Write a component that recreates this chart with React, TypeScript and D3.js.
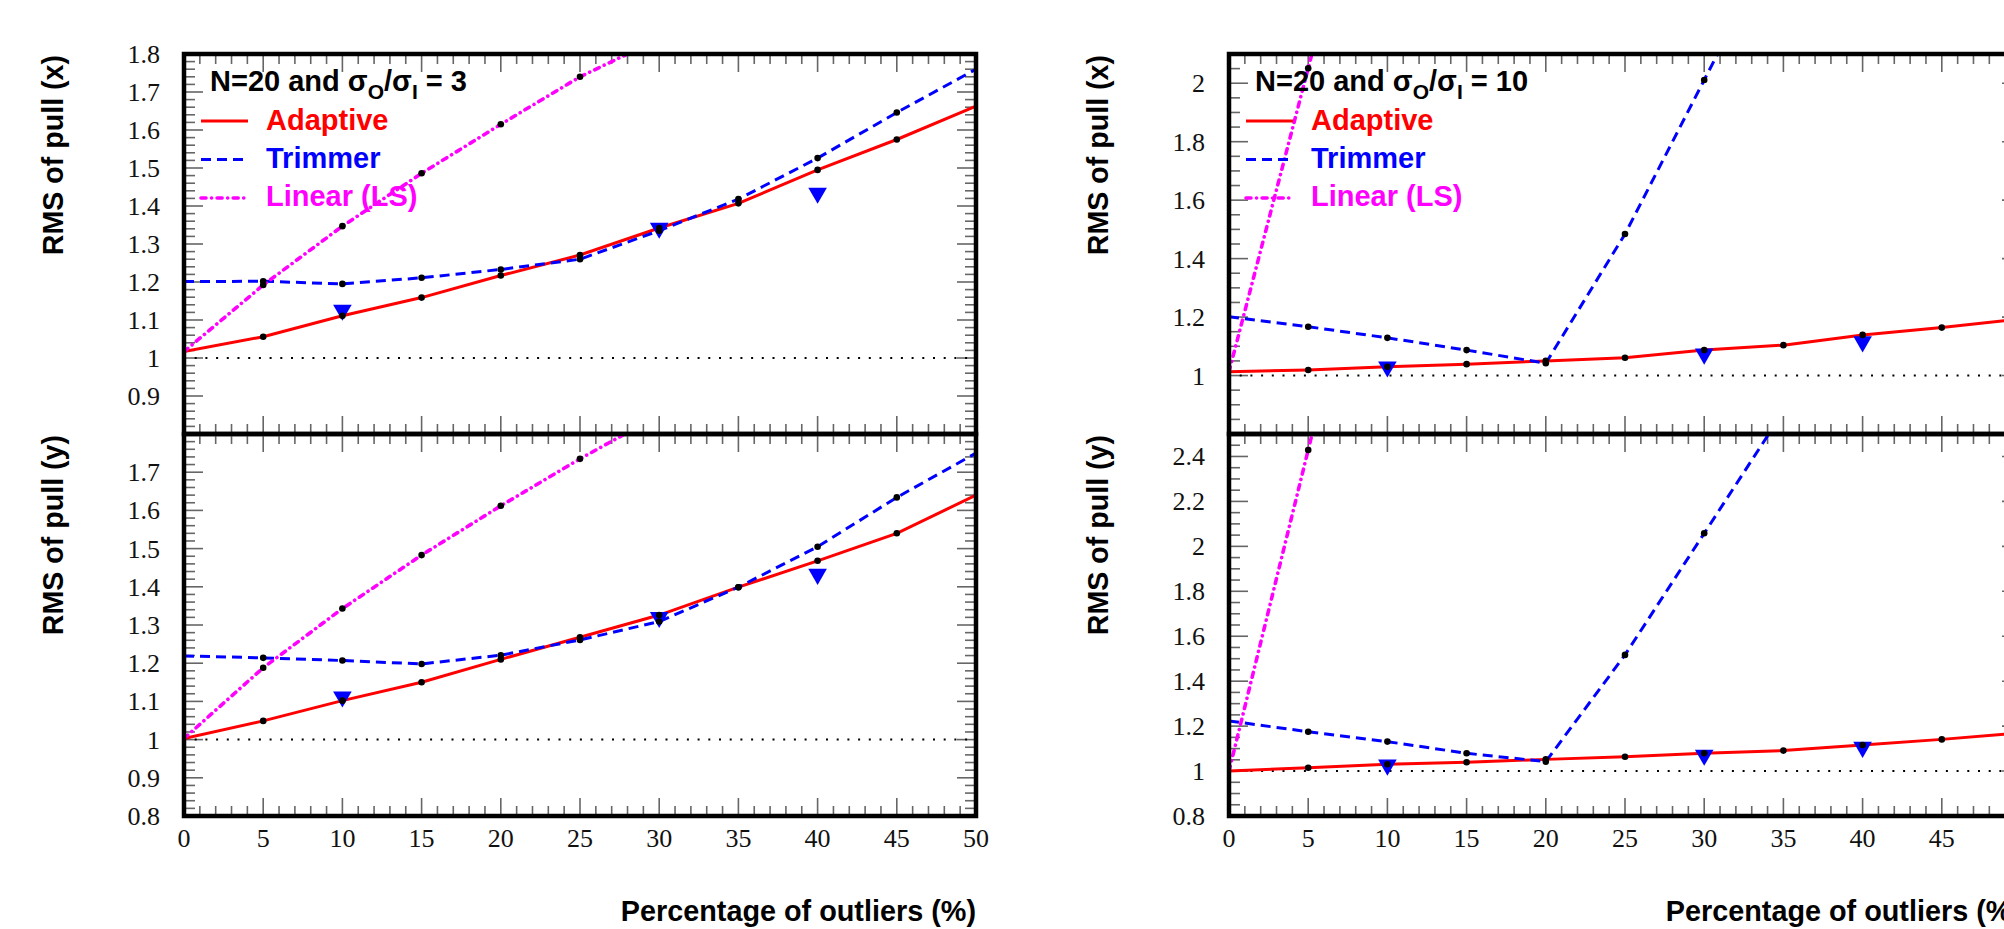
import React from 'react';
import * as d3 from 'd3';

// percentage of outliers
const pct = [0, 5, 10, 15, 20, 25, 30, 35, 40, 45, 50];
const markPct = [10, 30, 40];

// sigma_O / sigma_I = 3
const adaptiveX3 = [1.017, 1.056, 1.111, 1.159, 1.217, 1.271, 1.342, 1.407, 1.495, 1.575, 1.663];
const trimmerX3 = [1.201, 1.202, 1.195, 1.211, 1.233, 1.26, 1.335, 1.418, 1.526, 1.646, 1.76];
const linearX3 = [1.017, 1.192, 1.347, 1.486, 1.615, 1.74, 1.84];
const markX3 = [1.126, 1.342, 1.434];

const adaptiveY3 = [1.003, 1.049, 1.102, 1.15, 1.21, 1.268, 1.326, 1.399, 1.468, 1.54, 1.64];
const trimmerY3 = [1.219, 1.214, 1.207, 1.198, 1.221, 1.261, 1.309, 1.399, 1.505, 1.634, 1.75];
const linearY3 = [1.003, 1.188, 1.343, 1.483, 1.612, 1.735, 1.85];
const markY3 = [1.112, 1.32, 1.433];

// sigma_O / sigma_I = 10
const adaptiveX10 = [1.013, 1.019, 1.03, 1.039, 1.05, 1.061, 1.087, 1.104, 1.139, 1.164, 1.194];
const trimmerX10 = [1.201, 1.167, 1.129, 1.087, 1.042, 1.484, 2.011, 2.54];
const linearX10 = [1.013, 2.051, 3.1];
const markX10 = [1.03, 1.074, 1.116];

const adaptiveY10 = [1.0, 1.015, 1.03, 1.039, 1.052, 1.064, 1.079, 1.091, 1.116, 1.141, 1.17];
const trimmerY10 = [1.223, 1.175, 1.131, 1.079, 1.042, 1.517, 2.058, 2.6];
const linearY10 = [1.0, 2.429, 3.86];
const markY10 = [1.027, 1.071, 1.106];

// tick labels
const xLabels = [0, 5, 10, 15, 20, 25, 30, 35, 40, 45, 50];
const yLabelsTop3 = [0.9, 1, 1.1, 1.2, 1.3, 1.4, 1.5, 1.6, 1.7, 1.8];
const yLabelsBot3 = [0.8, 0.9, 1, 1.1, 1.2, 1.3, 1.4, 1.5, 1.6, 1.7];
const yLabelsTop10 = [1, 1.2, 1.4, 1.6, 1.8, 2];
const yLabelsBot10 = [0.8, 1, 1.2, 1.4, 1.6, 1.8, 2, 2.2, 2.4];

const legendNames = ['Adaptive', 'Trimmer', 'Linear (LS)'];
const COLORS = ['#ff0000', '#0000ff', '#ff00ff'];
const DASHES = [undefined, '10 6', '5 5.5 0.1 5.5'];
const WIDTHS = [3, 3, 3.6];

const SANS = "'Liberation Sans', Arial, sans-serif";
const SERIF = "'Liberation Serif', 'Times New Roman', serif";

const PW = 792;
const COLS = [184, 1229];
const ROWS = [
  { top: 54, bottom: 434 },
  { top: 434, bottom: 816 },
];

function tickList(d0, d1, minor, major) {
  const n = Math.round((d1 - d0) / minor);
  return d3.range(n + 1).map((i) => {
    const v = d0 + i * minor;
    const r = v / major;
    return { v, major: Math.abs(r - Math.round(r)) < 1e-6 };
  });
}

const fmt = (v) => String(+v.toFixed(2));

function Panel({ id, left, top, bottom, yDomain, yMinor, yMajor, yLabels, series, marks, showX, title, axisTitle }) {
  const x = d3.scaleLinear().domain([0, 50]).range([left, left + PW]);
  const y = d3.scaleLinear().domain(yDomain).range([bottom, top]);
  const line = d3
    .line()
    .x((d) => x(d[0]))
    .y((d) => y(d[1]));
  const xt = tickList(0, 50, 1, 5);
  const yt = tickList(yDomain[0], yDomain[1], yMinor, yMajor);
  const right = left + PW;
  const tri = d3.symbol().type(d3.symbolTriangle).size(150)();

  return (
    <g>
      <defs>
        <clipPath id={id}>
          <rect x={left} y={top} width={PW} height={bottom - top} />
        </clipPath>
      </defs>
      {/* ticks */}
      <g stroke="#666" strokeWidth={1.6}>
        {xt.map((t, i) => {
          const len = t.major ? 18 : 10;
          return (
            <g key={'x' + i}>
              <line x1={x(t.v)} x2={x(t.v)} y1={bottom} y2={bottom - len} />
              <line x1={x(t.v)} x2={x(t.v)} y1={top} y2={top + len} />
            </g>
          );
        })}
        {yt.map((t, i) => {
          const len = t.major ? 19 : 11;
          return (
            <g key={'y' + i}>
              <line x1={left} x2={left + len} y1={y(t.v)} y2={y(t.v)} />
              <line x1={right} x2={right - len} y1={y(t.v)} y2={y(t.v)} />
            </g>
          );
        })}
      </g>
      <g clipPath={`url(#${id})`}>
        <line x1={x(0)} x2={x(50)} y1={y(1)} y2={y(1)} stroke="#000" strokeWidth={2} strokeDasharray="2 8.7" />
        {series.map((s, k) => (
          <path
            key={k}
            d={line(s.map((v, i) => [pct[i], v]))}
            fill="none"
            stroke={COLORS[k]}
            strokeWidth={WIDTHS[k]}
            strokeDasharray={DASHES[k]}
            strokeLinecap={k === 2 ? 'round' : 'butt'}
          />
        ))}
        {marks.map((v, i) => (
          <path key={'m' + i} d={tri} transform={`translate(${x(markPct[i])},${y(v)}) rotate(180)`} fill="#0000ff" />
        ))}
        {series.map((s, k) =>
          s.map((v, i) =>
            pct[i] > 0 && pct[i] < 50 && v <= yDomain[1] ? (
              <circle key={k + '-' + i} cx={x(pct[i])} cy={y(v)} r={3.3} fill="#000" />
            ) : null
          )
        )}
      </g>
      {/* frame */}
      <rect x={left} y={top} width={PW} height={bottom - top} fill="none" stroke="#000" strokeWidth={4.5} />
      {/* y labels */}
      {yLabels.map((v) => (
        <text key={v} x={left - 24} y={y(v) + 9} textAnchor="end" fontFamily={SERIF} fontSize={26} fill="#111">
          {fmt(v)}
        </text>
      ))}
      {showX &&
        xLabels
          .filter((v) => x(v) < 1990)
          .map((v) => (
            <text key={v} x={x(v)} y={847} textAnchor="middle" fontFamily={SERIF} fontSize={26} fill="#111">
              {v}
            </text>
          ))}
      <text
        transform={`translate(${left - 121.5},${top + 1}) rotate(-90)`}
        textAnchor="end"
        fontFamily={SANS}
        fontWeight="bold"
        fontSize={28.6}
      >
        {axisTitle}
      </text>
      {title && (
        <g fontFamily={SANS} fontWeight="bold" fontSize={29}>
          <text x={left + 26} y={91} fill="#000">
            N=20 and σ
            <tspan fontSize={21} dy={8}>
              O
            </tspan>
            <tspan dy={-8}>/σ</tspan>
            <tspan fontSize={21} dy={8}>
              I
            </tspan>
            <tspan dy={-8}>{' = ' + title}</tspan>
          </text>
          {legendNames.map((name, k) => (
            <g key={name}>
              <line
                x1={left + 17}
                x2={left + 64}
                y1={121 + k * 38.5}
                y2={121 + k * 38.5}
                stroke={COLORS[k]}
                strokeWidth={WIDTHS[k]}
                strokeDasharray={DASHES[k]}
                strokeLinecap={k === 2 ? 'round' : 'butt'}
              />
              <text x={left + 82} y={129.5 + k * 38.3} fill={COLORS[k]}>
                {name}
              </text>
            </g>
          ))}
        </g>
      )}
    </g>
  );
}

export default function App() {
  return (
    <div style={{ position: 'absolute', left: 0, top: 0 }}>
      <svg width={2004} height={929} style={{ display: 'block', background: '#fff' }}>
        <rect width={2004} height={929} fill="#fff" />
        <Panel
          id="c1"
          left={COLS[0]}
          top={ROWS[0].top}
          bottom={ROWS[0].bottom}
          yDomain={[0.8, 1.8]}
          yMinor={0.02}
          yMajor={0.1}
          yLabels={yLabelsTop3}
          series={[adaptiveX3, trimmerX3, linearX3]}
          marks={markX3}
          showX={false}
          title="3"
          axisTitle="RMS of pull (x)"
        />
        <Panel
          id="c2"
          left={COLS[0]}
          top={ROWS[1].top}
          bottom={ROWS[1].bottom}
          yDomain={[0.8, 1.8]}
          yMinor={0.02}
          yMajor={0.1}
          yLabels={yLabelsBot3}
          series={[adaptiveY3, trimmerY3, linearY3]}
          marks={markY3}
          showX={true}
          title={null}
          axisTitle="RMS of pull (y)"
        />
        <Panel
          id="c3"
          left={COLS[1]}
          top={ROWS[0].top}
          bottom={ROWS[0].bottom}
          yDomain={[0.8, 2.1]}
          yMinor={0.05}
          yMajor={0.2}
          yLabels={yLabelsTop10}
          series={[adaptiveX10, trimmerX10, linearX10]}
          marks={markX10}
          showX={false}
          title="10"
          axisTitle="RMS of pull (x)"
        />
        <Panel
          id="c4"
          left={COLS[1]}
          top={ROWS[1].top}
          bottom={ROWS[1].bottom}
          yDomain={[0.8, 2.5]}
          yMinor={0.05}
          yMajor={0.2}
          yLabels={yLabelsBot10}
          series={[adaptiveY10, trimmerY10, linearY10]}
          marks={markY10}
          showX={true}
          title={null}
          axisTitle="RMS of pull (y)"
        />
        {COLS.map((c) => (
          <text key={c} x={c + PW} y={921} textAnchor="end" fontFamily={SANS} fontWeight="bold" fontSize={28.8}>
            Percentage of outliers (%)
          </text>
        ))}
      </svg>
    </div>
  );
}
